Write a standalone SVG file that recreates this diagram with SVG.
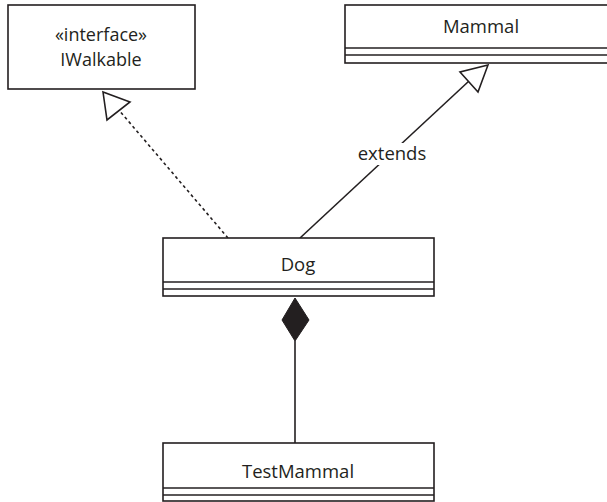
<svg xmlns="http://www.w3.org/2000/svg" width="607" height="502" viewBox="0 0 607 502">
<style>
.box{fill:#fff;stroke:#231f20;stroke-width:1.6}
.ln{fill:none;stroke:#231f20;stroke-width:1.6}
.t{font-family:"Open Sans","Noto Sans",sans-serif;font-size:18.5px;fill:#231f20;text-anchor:middle}
.s{font-size:18px}
</style>
<rect width="607" height="502" fill="#fff"/>
<g id="connectors">
<line class="ln" x1="228" y1="238" x2="118" y2="109" stroke-dasharray="3,3" stroke-width="2"/>
<polygon class="box" points="103,92 107,120 130,102"/>
<line class="ln" x1="300" y1="238" x2="469" y2="81"/>
<polygon class="box" points="488,65 460,72 478,92"/>
<rect x="354" y="143" width="76" height="22" fill="#fff"/>
<text class="t" x="392" y="160">extends</text>
<line class="ln" x1="295" y1="341" x2="295" y2="443"/>
<polygon points="295,298 282,320 295,341 309,320" fill="#231f20" stroke="#231f20" stroke-width="1"/>
</g>
<g id="IWalkable">
<rect class="box" x="8" y="5" width="187" height="84"/>
<text class="t s" x="101" y="41">«interface»</text>
<text class="t s" x="101" y="66">IWalkable</text>
</g>
<g id="Mammal">
<rect class="box" x="345" y="5" width="271" height="58"/>
<line class="ln" x1="345" y1="48" x2="616" y2="48"/>
<line class="ln" x1="345" y1="55" x2="616" y2="55"/>
<text class="t" x="481" y="33">Mammal</text>
</g>
<g id="Dog">
<rect class="box" x="163" y="238" width="271" height="58"/>
<line class="ln" x1="163" y1="282" x2="434" y2="282"/>
<line class="ln" x1="163" y1="289" x2="434" y2="289"/>
<text class="t" x="298" y="271">Dog</text>
</g>
<g id="TestMammal">
<rect class="box" x="163" y="443" width="271" height="58"/>
<line class="ln" x1="163" y1="488" x2="434" y2="488"/>
<line class="ln" x1="163" y1="495" x2="434" y2="495"/>
<text class="t" x="298" y="478">TestMammal</text>
</g>
</svg>
